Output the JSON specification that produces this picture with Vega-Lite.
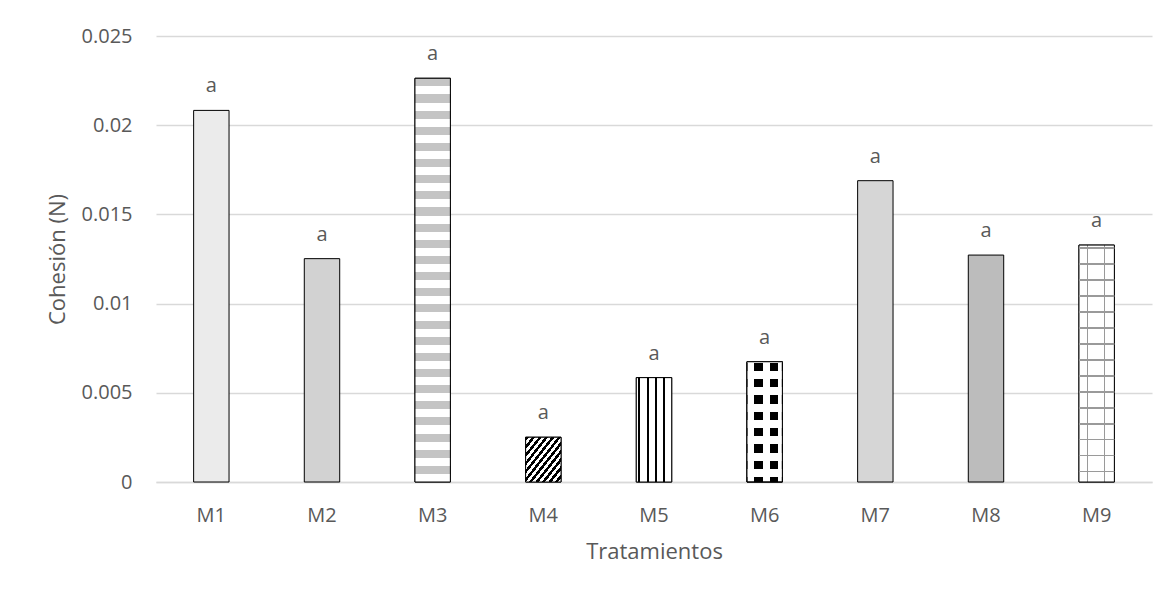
{
  "$schema": "https://vega.github.io/schema/vega-lite/v6.json",
  "width": 996,
  "height": 446,
  "autosize": {"type": "none"},
  "padding": {"left": 156, "top": 36, "right": 15, "bottom": 112},
  "background": "white",
  "config": {
    "view": {"stroke": null},
    "font": "Open Sans"
  },
  "data": {
    "values": [
      {"Tratamiento": "M1", "Cohesion": 0.02083, "letra": "a"},
      {"Tratamiento": "M2", "Cohesion": 0.01252, "letra": "a"},
      {"Tratamiento": "M3", "Cohesion": 0.02263, "letra": "a"},
      {"Tratamiento": "M4", "Cohesion": 0.00251, "letra": "a"},
      {"Tratamiento": "M5", "Cohesion": 0.00585, "letra": "a"},
      {"Tratamiento": "M6", "Cohesion": 0.00674, "letra": "a"},
      {"Tratamiento": "M7", "Cohesion": 0.01689, "letra": "a"},
      {"Tratamiento": "M8", "Cohesion": 0.01272, "letra": "a"},
      {"Tratamiento": "M9", "Cohesion": 0.01328, "letra": "a"}
    ]
  },
  "encoding": {
    "x": {
      "field": "Tratamiento",
      "type": "nominal",
      "sort": ["M1", "M2", "M3", "M4", "M5", "M6", "M7", "M8", "M9"],
      "scale": {"paddingInner": 0.68, "paddingOuter": 0.34},
      "axis": {
        "title": "Tratamientos",
        "labelAngle": 0,
        "domain": true,
        "domainColor": "#d9d9d9",
        "domainWidth": 1.5,
        "ticks": false,
        "tickSize": 0,
        "labelPadding": 39,
        "labelBaseline": "alphabetic",
        "labelFont": "Open Sans",
        "labelFontSize": 20,
        "labelColor": "#595959",
        "titleFont": "Open Sans",
        "titleFontSize": 22,
        "titleFontWeight": "normal",
        "titleColor": "#595959",
        "titleX": 498,
        "titleY": 69,
        "titleAlign": "center",
        "titleBaseline": "middle"
      }
    },
    "y": {
      "field": "Cohesion",
      "type": "quantitative",
      "scale": {"domain": [0, 0.025], "nice": false},
      "axis": {
        "title": "Cohesión (N)",
        "values": [0, 0.005, 0.01, 0.015, 0.02, 0.025],
        "format": "~g",
        "grid": true,
        "gridColor": "#d9d9d9",
        "gridWidth": 1.5,
        "domain": false,
        "ticks": false,
        "tickSize": 0,
        "labelPadding": 24,
        "labelFont": "Open Sans",
        "labelFontSize": 20,
        "labelColor": "#595959",
        "titleFont": "Open Sans",
        "titleFontSize": 22,
        "titleFontWeight": "normal",
        "titleColor": "#595959",
        "titleAngle": -90,
        "titleX": -99,
        "titleY": 223,
        "titleAlign": "center",
        "titleBaseline": "middle"
      }
    }
  },
  "layer": [
    {
      "mark": {"type": "bar", "stroke": "#000000", "strokeWidth": 1},
      "encoding": {
        "color": {
          "field": "Tratamiento",
          "type": "nominal",
          "scale": {
            "domain": ["M1", "M2", "M3", "M4", "M5", "M6", "M7", "M8", "M9"],
            "range": ["#ebebeb", "#d2d2d2", "#ffffff", "#ffffff", "#ffffff", "#ffffff", "#d6d6d6", "#bcbcbc", "#ffffff"]
          },
          "legend": null
        }
      }
    },
    {
      "transform": [{"filter": "datum.Tratamiento === 'M3'"}],
      "mark": {
        "type": "bar",
        "stroke": "#000000",
        "strokeWidth": 1,
        "fill": {
          "gradient": "linear",
          "x1": 0, "y1": 0, "x2": 0, "y2": 1,
          "stops": [
            {"offset": 0, "color": "#c4c4c4"}, {"offset": 0.02, "color": "#c4c4c4"}, {"offset": 0.02, "color": "#fff"}, {"offset": 0.04, "color": "#fff"},
            {"offset": 0.04, "color": "#c4c4c4"}, {"offset": 0.06, "color": "#c4c4c4"}, {"offset": 0.06, "color": "#fff"}, {"offset": 0.08, "color": "#fff"},
            {"offset": 0.08, "color": "#c4c4c4"}, {"offset": 0.10, "color": "#c4c4c4"}, {"offset": 0.10, "color": "#fff"}, {"offset": 0.12, "color": "#fff"},
            {"offset": 0.12, "color": "#c4c4c4"}, {"offset": 0.14, "color": "#c4c4c4"}, {"offset": 0.14, "color": "#fff"}, {"offset": 0.16, "color": "#fff"},
            {"offset": 0.16, "color": "#c4c4c4"}, {"offset": 0.18, "color": "#c4c4c4"}, {"offset": 0.18, "color": "#fff"}, {"offset": 0.20, "color": "#fff"},
            {"offset": 0.20, "color": "#c4c4c4"}, {"offset": 0.22, "color": "#c4c4c4"}, {"offset": 0.22, "color": "#fff"}, {"offset": 0.24, "color": "#fff"},
            {"offset": 0.24, "color": "#c4c4c4"}, {"offset": 0.26, "color": "#c4c4c4"}, {"offset": 0.26, "color": "#fff"}, {"offset": 0.28, "color": "#fff"},
            {"offset": 0.28, "color": "#c4c4c4"}, {"offset": 0.30, "color": "#c4c4c4"}, {"offset": 0.30, "color": "#fff"}, {"offset": 0.32, "color": "#fff"},
            {"offset": 0.32, "color": "#c4c4c4"}, {"offset": 0.34, "color": "#c4c4c4"}, {"offset": 0.34, "color": "#fff"}, {"offset": 0.36, "color": "#fff"},
            {"offset": 0.36, "color": "#c4c4c4"}, {"offset": 0.38, "color": "#c4c4c4"}, {"offset": 0.38, "color": "#fff"}, {"offset": 0.40, "color": "#fff"},
            {"offset": 0.40, "color": "#c4c4c4"}, {"offset": 0.42, "color": "#c4c4c4"}, {"offset": 0.42, "color": "#fff"}, {"offset": 0.44, "color": "#fff"},
            {"offset": 0.44, "color": "#c4c4c4"}, {"offset": 0.46, "color": "#c4c4c4"}, {"offset": 0.46, "color": "#fff"}, {"offset": 0.48, "color": "#fff"},
            {"offset": 0.48, "color": "#c4c4c4"}, {"offset": 0.50, "color": "#c4c4c4"}, {"offset": 0.50, "color": "#fff"}, {"offset": 0.52, "color": "#fff"},
            {"offset": 0.52, "color": "#c4c4c4"}, {"offset": 0.54, "color": "#c4c4c4"}, {"offset": 0.54, "color": "#fff"}, {"offset": 0.56, "color": "#fff"},
            {"offset": 0.56, "color": "#c4c4c4"}, {"offset": 0.58, "color": "#c4c4c4"}, {"offset": 0.58, "color": "#fff"}, {"offset": 0.60, "color": "#fff"},
            {"offset": 0.60, "color": "#c4c4c4"}, {"offset": 0.62, "color": "#c4c4c4"}, {"offset": 0.62, "color": "#fff"}, {"offset": 0.64, "color": "#fff"},
            {"offset": 0.64, "color": "#c4c4c4"}, {"offset": 0.66, "color": "#c4c4c4"}, {"offset": 0.66, "color": "#fff"}, {"offset": 0.68, "color": "#fff"},
            {"offset": 0.68, "color": "#c4c4c4"}, {"offset": 0.70, "color": "#c4c4c4"}, {"offset": 0.70, "color": "#fff"}, {"offset": 0.72, "color": "#fff"},
            {"offset": 0.72, "color": "#c4c4c4"}, {"offset": 0.74, "color": "#c4c4c4"}, {"offset": 0.74, "color": "#fff"}, {"offset": 0.76, "color": "#fff"},
            {"offset": 0.76, "color": "#c4c4c4"}, {"offset": 0.78, "color": "#c4c4c4"}, {"offset": 0.78, "color": "#fff"}, {"offset": 0.80, "color": "#fff"},
            {"offset": 0.80, "color": "#c4c4c4"}, {"offset": 0.82, "color": "#c4c4c4"}, {"offset": 0.82, "color": "#fff"}, {"offset": 0.84, "color": "#fff"},
            {"offset": 0.84, "color": "#c4c4c4"}, {"offset": 0.86, "color": "#c4c4c4"}, {"offset": 0.86, "color": "#fff"}, {"offset": 0.88, "color": "#fff"},
            {"offset": 0.88, "color": "#c4c4c4"}, {"offset": 0.90, "color": "#c4c4c4"}, {"offset": 0.90, "color": "#fff"}, {"offset": 0.92, "color": "#fff"},
            {"offset": 0.92, "color": "#c4c4c4"}, {"offset": 0.94, "color": "#c4c4c4"}, {"offset": 0.94, "color": "#fff"}, {"offset": 0.96, "color": "#fff"},
            {"offset": 0.96, "color": "#c4c4c4"}, {"offset": 0.98, "color": "#c4c4c4"}, {"offset": 0.98, "color": "#fff"}, {"offset": 1, "color": "#fff"}
          ]
        }
      }
    },
    {
      "transform": [{"filter": "datum.Tratamiento === 'M4'"}],
      "mark": {
        "type": "bar",
        "stroke": "#000000",
        "strokeWidth": 1,
        "fill": {
          "gradient": "linear",
          "x1": 0, "y1": 0, "x2": 1, "y2": 1,
          "stops": [
            {"offset": 0, "color": "#000"}, {"offset": 0.045, "color": "#000"},
            {"offset": 0.045, "color": "#fff"}, {"offset": 0.091, "color": "#fff"},
            {"offset": 0.091, "color": "#000"}, {"offset": 0.136, "color": "#000"},
            {"offset": 0.136, "color": "#fff"}, {"offset": 0.182, "color": "#fff"},
            {"offset": 0.182, "color": "#000"}, {"offset": 0.227, "color": "#000"},
            {"offset": 0.227, "color": "#fff"}, {"offset": 0.273, "color": "#fff"},
            {"offset": 0.273, "color": "#000"}, {"offset": 0.318, "color": "#000"},
            {"offset": 0.318, "color": "#fff"}, {"offset": 0.364, "color": "#fff"},
            {"offset": 0.364, "color": "#000"}, {"offset": 0.409, "color": "#000"},
            {"offset": 0.409, "color": "#fff"}, {"offset": 0.455, "color": "#fff"},
            {"offset": 0.455, "color": "#000"}, {"offset": 0.5, "color": "#000"},
            {"offset": 0.5, "color": "#fff"}, {"offset": 0.545, "color": "#fff"},
            {"offset": 0.545, "color": "#000"}, {"offset": 0.591, "color": "#000"},
            {"offset": 0.591, "color": "#fff"}, {"offset": 0.636, "color": "#fff"},
            {"offset": 0.636, "color": "#000"}, {"offset": 0.682, "color": "#000"},
            {"offset": 0.682, "color": "#fff"}, {"offset": 0.727, "color": "#fff"},
            {"offset": 0.727, "color": "#000"}, {"offset": 0.773, "color": "#000"},
            {"offset": 0.773, "color": "#fff"}, {"offset": 0.818, "color": "#fff"},
            {"offset": 0.818, "color": "#000"}, {"offset": 0.864, "color": "#000"},
            {"offset": 0.864, "color": "#fff"}, {"offset": 0.909, "color": "#fff"},
            {"offset": 0.909, "color": "#000"}, {"offset": 0.955, "color": "#000"},
            {"offset": 0.955, "color": "#fff"}, {"offset": 1, "color": "#fff"}
          ]
        }
      }
    },
    {
      "transform": [{"filter": "datum.Tratamiento === 'M5'"}],
      "mark": {
        "type": "bar",
        "stroke": "#000000",
        "strokeWidth": 1,
        "fill": {
          "gradient": "linear",
          "x1": 0, "y1": 0, "x2": 1, "y2": 0,
          "stops": [
            {"offset": 0, "color": "#fff"}, {"offset": 0.062, "color": "#fff"},
            {"offset": 0.062, "color": "#000"}, {"offset": 0.112, "color": "#000"},
            {"offset": 0.112, "color": "#fff"}, {"offset": 0.297, "color": "#fff"},
            {"offset": 0.297, "color": "#000"}, {"offset": 0.347, "color": "#000"},
            {"offset": 0.347, "color": "#fff"}, {"offset": 0.532, "color": "#fff"},
            {"offset": 0.532, "color": "#000"}, {"offset": 0.582, "color": "#000"},
            {"offset": 0.582, "color": "#fff"}, {"offset": 0.767, "color": "#fff"},
            {"offset": 0.767, "color": "#000"}, {"offset": 0.817, "color": "#000"},
            {"offset": 0.817, "color": "#fff"}, {"offset": 1, "color": "#fff"}
          ]
        }
      }
    },
    {
      "transform": [{"filter": "datum.Tratamiento === 'M6'"}],
      "mark": {
        "type": "bar",
        "stroke": "#000000",
        "strokeWidth": 1,
        "fill": {
          "gradient": "linear",
          "x1": 0, "y1": 0, "x2": 1, "y2": 0,
          "stops": [
            {"offset": 0, "color": "#fff"}, {"offset": 0.21, "color": "#fff"},
            {"offset": 0.21, "color": "#000"}, {"offset": 0.45, "color": "#000"},
            {"offset": 0.45, "color": "#fff"}, {"offset": 0.64, "color": "#fff"},
            {"offset": 0.64, "color": "#000"}, {"offset": 0.88, "color": "#000"},
            {"offset": 0.88, "color": "#fff"}, {"offset": 1, "color": "#fff"}
          ]
        }
      }
    },
    {
      "transform": [{"filter": "datum.Tratamiento === 'M6'"}],
      "mark": {
        "type": "bar",
        "stroke": "#000000",
        "strokeWidth": 1,
        "fill": {
          "gradient": "linear",
          "x1": 0, "y1": 0, "x2": 0, "y2": 1,
          "stops": [
            {"offset": 0, "color": "#fff"}, {"offset": 0.007, "color": "#fff"},
            {"offset": 0.007, "color": "rgba(255,255,255,0)"}, {"offset": 0.077, "color": "rgba(255,255,255,0)"}, {"offset": 0.077, "color": "#fff"}, {"offset": 0.143, "color": "#fff"},
            {"offset": 0.143, "color": "rgba(255,255,255,0)"}, {"offset": 0.213, "color": "rgba(255,255,255,0)"}, {"offset": 0.213, "color": "#fff"}, {"offset": 0.279, "color": "#fff"},
            {"offset": 0.279, "color": "rgba(255,255,255,0)"}, {"offset": 0.349, "color": "rgba(255,255,255,0)"}, {"offset": 0.349, "color": "#fff"}, {"offset": 0.415, "color": "#fff"},
            {"offset": 0.415, "color": "rgba(255,255,255,0)"}, {"offset": 0.485, "color": "rgba(255,255,255,0)"}, {"offset": 0.485, "color": "#fff"}, {"offset": 0.551, "color": "#fff"},
            {"offset": 0.551, "color": "rgba(255,255,255,0)"}, {"offset": 0.621, "color": "rgba(255,255,255,0)"}, {"offset": 0.621, "color": "#fff"}, {"offset": 0.687, "color": "#fff"},
            {"offset": 0.687, "color": "rgba(255,255,255,0)"}, {"offset": 0.757, "color": "rgba(255,255,255,0)"}, {"offset": 0.757, "color": "#fff"}, {"offset": 0.823, "color": "#fff"},
            {"offset": 0.823, "color": "rgba(255,255,255,0)"}, {"offset": 0.893, "color": "rgba(255,255,255,0)"}, {"offset": 0.893, "color": "#fff"}, {"offset": 0.959, "color": "#fff"},
            {"offset": 0.959, "color": "rgba(255,255,255,0)"}, {"offset": 1, "color": "rgba(255,255,255,0)"}
          ]
        }
      }
    },
    {
      "transform": [{"filter": "datum.Tratamiento === 'M9'"}],
      "mark": {
        "type": "bar",
        "stroke": "#000000",
        "strokeWidth": 1,
        "fill": {
          "gradient": "linear",
          "x1": 0, "y1": 0, "x2": 1, "y2": 0,
          "stops": [
            {"offset": 0, "color": "#fff"}, {"offset": 0.225, "color": "#fff"},
            {"offset": 0.225, "color": "#9a9a9a"}, {"offset": 0.255, "color": "#9a9a9a"},
            {"offset": 0.255, "color": "#fff"}, {"offset": 0.695, "color": "#fff"},
            {"offset": 0.695, "color": "#9a9a9a"}, {"offset": 0.725, "color": "#9a9a9a"},
            {"offset": 0.725, "color": "#fff"}, {"offset": 1, "color": "#fff"}
          ]
        }
      }
    },
    {
      "transform": [{"filter": "datum.Tratamiento === 'M9'"}],
      "mark": {
        "type": "bar",
        "strokeWidth": 0,
        "fill": {
          "gradient": "linear",
          "x1": 0, "y1": 0, "x2": 0, "y2": 1,
          "stops": [
            {"offset": 0, "color": "rgba(255,255,255,0)"},
            {"offset": 0.0097, "color": "rgba(255,255,255,0)"}, {"offset": 0.0097, "color": "#9a9a9a"}, {"offset": 0.0147, "color": "#9a9a9a"}, {"offset": 0.0147, "color": "rgba(255,255,255,0)"},
            {"offset": 0.0772, "color": "rgba(255,255,255,0)"}, {"offset": 0.0772, "color": "#9a9a9a"}, {"offset": 0.0822, "color": "#9a9a9a"}, {"offset": 0.0822, "color": "rgba(255,255,255,0)"},
            {"offset": 0.1447, "color": "rgba(255,255,255,0)"}, {"offset": 0.1447, "color": "#9a9a9a"}, {"offset": 0.1497, "color": "#9a9a9a"}, {"offset": 0.1497, "color": "rgba(255,255,255,0)"},
            {"offset": 0.2122, "color": "rgba(255,255,255,0)"}, {"offset": 0.2122, "color": "#9a9a9a"}, {"offset": 0.2172, "color": "#9a9a9a"}, {"offset": 0.2172, "color": "rgba(255,255,255,0)"},
            {"offset": 0.2797, "color": "rgba(255,255,255,0)"}, {"offset": 0.2797, "color": "#9a9a9a"}, {"offset": 0.2847, "color": "#9a9a9a"}, {"offset": 0.2847, "color": "rgba(255,255,255,0)"},
            {"offset": 0.3472, "color": "rgba(255,255,255,0)"}, {"offset": 0.3472, "color": "#9a9a9a"}, {"offset": 0.3522, "color": "#9a9a9a"}, {"offset": 0.3522, "color": "rgba(255,255,255,0)"},
            {"offset": 0.4147, "color": "rgba(255,255,255,0)"}, {"offset": 0.4147, "color": "#9a9a9a"}, {"offset": 0.4197, "color": "#9a9a9a"}, {"offset": 0.4197, "color": "rgba(255,255,255,0)"},
            {"offset": 0.4822, "color": "rgba(255,255,255,0)"}, {"offset": 0.4822, "color": "#9a9a9a"}, {"offset": 0.4872, "color": "#9a9a9a"}, {"offset": 0.4872, "color": "rgba(255,255,255,0)"},
            {"offset": 0.5497, "color": "rgba(255,255,255,0)"}, {"offset": 0.5497, "color": "#9a9a9a"}, {"offset": 0.5547, "color": "#9a9a9a"}, {"offset": 0.5547, "color": "rgba(255,255,255,0)"},
            {"offset": 0.6173, "color": "rgba(255,255,255,0)"}, {"offset": 0.6173, "color": "#9a9a9a"}, {"offset": 0.6223, "color": "#9a9a9a"}, {"offset": 0.6223, "color": "rgba(255,255,255,0)"},
            {"offset": 0.6848, "color": "rgba(255,255,255,0)"}, {"offset": 0.6848, "color": "#9a9a9a"}, {"offset": 0.6898, "color": "#9a9a9a"}, {"offset": 0.6898, "color": "rgba(255,255,255,0)"},
            {"offset": 0.7523, "color": "rgba(255,255,255,0)"}, {"offset": 0.7523, "color": "#9a9a9a"}, {"offset": 0.7573, "color": "#9a9a9a"}, {"offset": 0.7573, "color": "rgba(255,255,255,0)"},
            {"offset": 0.8198, "color": "rgba(255,255,255,0)"}, {"offset": 0.8198, "color": "#9a9a9a"}, {"offset": 0.8248, "color": "#9a9a9a"}, {"offset": 0.8248, "color": "rgba(255,255,255,0)"},
            {"offset": 0.8873, "color": "rgba(255,255,255,0)"}, {"offset": 0.8873, "color": "#9a9a9a"}, {"offset": 0.8923, "color": "#9a9a9a"}, {"offset": 0.8923, "color": "rgba(255,255,255,0)"},
            {"offset": 0.9548, "color": "rgba(255,255,255,0)"}, {"offset": 0.9548, "color": "#9a9a9a"}, {"offset": 0.9598, "color": "#9a9a9a"}, {"offset": 0.9598, "color": "rgba(255,255,255,0)"},
            {"offset": 1, "color": "rgba(255,255,255,0)"}
          ]
        }
      }
    },
    {
      "mark": {
        "type": "text",
        "baseline": "alphabetic",
        "align": "center",
        "dy": -18,
        "font": "Open Sans",
        "fontSize": 20,
        "color": "#595959"
      },
      "encoding": {"text": {"field": "letra"}}
    }
  ]
}
